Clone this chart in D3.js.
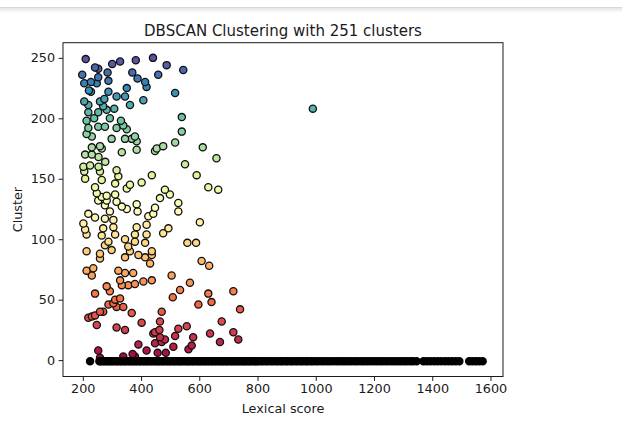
<!DOCTYPE html>
<html><head><meta charset="utf-8">
<script src="https://cdn.jsdelivr.net/npm/d3@7"></script>
<style>
body{margin:0;background:#fff}
svg{display:block}
text{font-family:"DejaVu Sans",sans-serif;fill:#1a1a1a}
</style>
</head><body>
<svg id="c" width="622" height="428"></svg>
<script>
const titleText = "DBSCAN Clustering with 251 clusters";
const xLabelText = "Lexical score";
const yLabelText = "Cluster";
const nClusters = 251;
const xTicks = [200, 400, 600, 800, 1000, 1200, 1400, 1600];
const yTicks = [0, 50, 100, 150, 200, 250];

// clustered points: lexical score and cluster label
const clusterX = [210,242,253,301,328,382,441,198,205,228,253,285,221,228,248,288,370,388,414,419,351,288,274,316,345,408,362,205,219,259,270,219,253,282,308,213,239,293,331,339,219,253,276,316,351,379,368,385,213,231,299,345,259,
488,545,459,517,540,540,517,476,454,612,
231,265,334,385,208,231,254,277,202,225,254,205,259,316,322,208,265,311,402,362,351,437,242,248,282,311,265,253,282,316,276,334,351,385,388,293,219,242,276,305,425,419,202,208,213,270,305,311,385,379,419,265,288,276,345,379,414,356,213,299,
448,659,551,591,631,665,482,499,465,528,528,448,442,602,494,476,559,589,437,
259,259,345,362,391,414,213,236,231,322,345,373,328,356,379,408,437,334,282,242,293,311,328,305,288,316,339,270,259,368,242,231,219,248,316,345,402,448,391,253,339,379,419,
437,431,608,634,505,568,534,509,631,642,717,597,740,471,465,677,557,528,463,637,717,734,671,442,465,517,579,471,448,482,511,574,563,457,485,
990,371,259];
const clusterLabel = [249,242,241,245,247,248,250,236,229,230,234,238,223,222,229,231,238,233,230,226,225,222,216,218,218,215,211,214,211,214,210,205,205,207,208,198,200,200,198,194,192,193,193,192,191,185,183,181,187,185,183,183,177,
244,240,236,221,201,189,180,177,175,176,
176,175,172,174,170,170,168,164,160,161,160,156,156,157,152,150,149,146,147,145,142,153,143,138,136,137,135,132,132,131,128,127,125,129,123,123,121,118,117,116,119,112,113,108,104,109,110,104,110,104,104,103,98,95,100,98,97,94,90,91,
173,167,162,153,143,141,141,137,134,130,123,126,121,114,109,105,97,97,90,
88,84,85,90,87,85,74,76,70,74,72,72,66,62,63,65,66,62,61,55,57,50,51,47,46,44,44,40,40,39,37,36,35,29,27,25,31,23,13,8,3,3,8,
87,80,82,78,70,64,58,52,55,48,57,46,42,40,32,32,28,26,25,22,23,17,15,22,19,20,19,15,14,17,11,12,9,6,6,
208,5,2];

// noise points (label -1)
const noiseX = [225,257,262,269,275,283,288,296,301,309,316,321,329,334,342,347,355,361,368,373,381,386,394,399,407,413,420,425,433,438,446,452,459,464,472,477,485,491,498,503,511,516,524,530,537,542,550,556,563,568,576,581,589,595,602,607,615,620,628,634,641,646,654,659,667,673,680,685,693,698,706,712,719,724,732,737,745,751,758,763,771,776,784,790,797,803,812,819,829,836,846,853,863,870,880,887,897,904,914,921,931,938,948,955,965,972,982,989,999,1008,1019,1029,1040,1050,1061,1072,1082,1093,1103,1114,1124,1135,1145,1156,1166,1177,1187,1198,1208,1219,1229,1240,1250,1261,1271,1282,1292,1303,1313,1324,1334,1346,1370,1382,1394,1407,1419,1431,1444,1456,1468,1481,1493,1527,1538,1550,1561,1573];

const spectral = ["#9e0142","#d53e4f","#f46d43","#fdae61","#fee08b","#ffffbf","#e6f598","#abdda4","#66c2a5","#3288bd","#5e4fa2"];
const cmap = d3.scaleLinear().domain(d3.range(11).map(i => i / 10)).range(spectral).interpolate(d3.interpolateRgb);

const svg = d3.select("#c");
const L = 63, R = 503, T = 42.7, B = 376.5;
const x = d3.scaleLinear().domain([132, 1643]).range([L, R]);
const y = d3.scaleLinear().domain([-13.55, 262.55]).range([B, T]);

// notebook header remnant
const defs = svg.append("defs");
const g1 = defs.append("linearGradient").attr("id","sh").attr("x1",0).attr("y1",0).attr("x2",0).attr("y2",1);
g1.append("stop").attr("offset","0%").attr("stop-color","#000").attr("stop-opacity",0.10);
g1.append("stop").attr("offset","100%").attr("stop-color","#000").attr("stop-opacity",0);
svg.append("rect").attr("x",0).attr("y",8).attr("width",622).attr("height",5).attr("fill","url(#sh)");
svg.append("line").attr("x1",0).attr("x2",622).attr("y1",7.5).attr("y2",7.5).attr("stroke","#d8d8d8");

// points
const pts = clusterX.map((v, i) => ({x: v, l: clusterLabel[i]})).sort((a, b) => a.l - b.l);
svg.append("g").selectAll("circle").data(pts).join("circle")
  .attr("cx", d => x(d.x)).attr("cy", d => y(d.l)).attr("r", 3.6)
  .attr("fill", d => cmap(d.l / nClusters)).attr("stroke", "#111").attr("stroke-width", 1.3);
svg.append("g").selectAll("circle").data(noiseX).join("circle")
  .attr("cx", d => x(d)).attr("cy", y(-1)).attr("r", 3.6)
  .attr("fill", "#000").attr("stroke", "#000").attr("stroke-width", 1.3);

// axes
const xa = svg.append("g").attr("transform", `translate(0,${B})`)
  .call(d3.axisBottom(x).tickValues(xTicks).tickSize(4.4).tickPadding(3.5).tickFormat(d3.format("d")));
const ya = svg.append("g").attr("transform", `translate(${L},0)`)
  .call(d3.axisLeft(y).tickValues(yTicks).tickSize(4.4).tickPadding(3.5).tickFormat(d3.format("d")));
[xa, ya].forEach(a => {
  a.select(".domain").remove();
  a.selectAll(".tick line").attr("stroke", "#1a1a1a").attr("stroke-width", 1);
  a.selectAll(".tick text").attr("font-size", "12.8px").attr("fill", "#1a1a1a").attr("font-family", "DejaVu Sans");
});

// frame
svg.append("rect").attr("x", L).attr("y", T).attr("width", R - L).attr("height", B - T)
  .attr("fill", "none").attr("stroke", "#1a1a1a").attr("stroke-width", 1);

// labels
svg.append("text").attr("x", (L + R) / 2).attr("y", 36).attr("text-anchor", "middle")
  .attr("font-size", "15px").text(titleText);
svg.append("text").attr("x", (L + R) / 2).attr("y", 413).attr("text-anchor", "middle")
  .attr("font-size", "12.8px").text(xLabelText);
svg.append("text").attr("transform", `translate(22,${(T + B) / 2}) rotate(-90)`).attr("text-anchor", "middle")
  .attr("font-size", "12.8px").text(yLabelText);
</script>
</body></html>
